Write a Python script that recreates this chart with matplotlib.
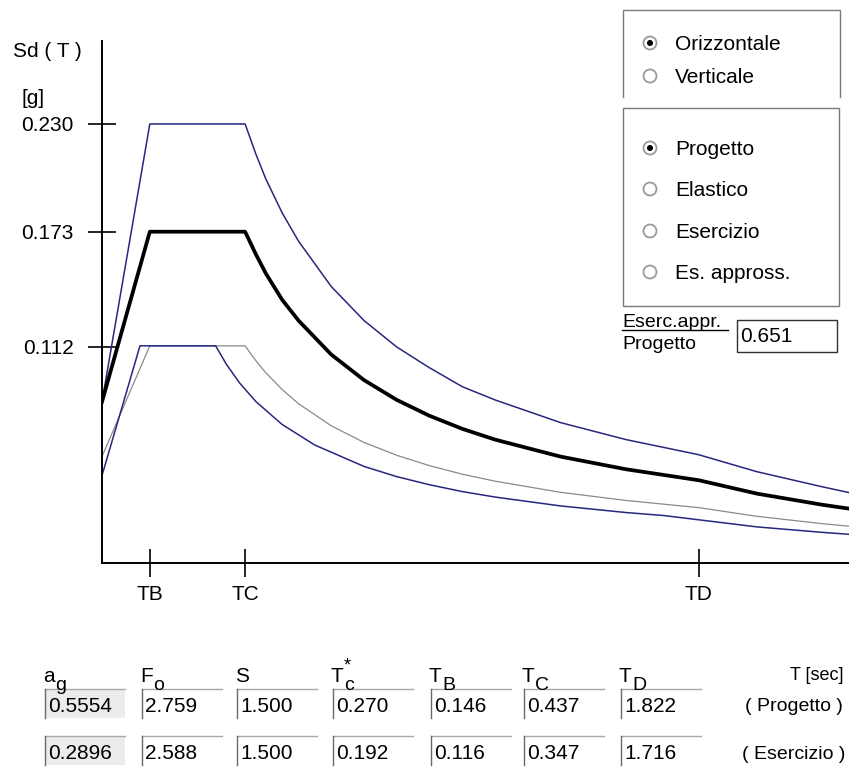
import matplotlib.pyplot as plt
from matplotlib.patches import Rectangle, Circle

plt.rcParams['font.family'] = ['Liberation Sans', 'DejaVu Sans']

# periods [s] used for the "Progetto" curves and the "Esercizio" curve
T_prog = [0.0, 0.146, 0.437, 0.47, 0.5, 0.55, 0.6, 0.7, 0.8, 0.9, 1.0, 1.1, 1.2,
          1.4, 1.6, 1.822, 2.0, 2.2, 2.28]
T_es = [0.0, 0.116, 0.347, 0.38, 0.42, 0.47, 0.55, 0.65, 0.8, 0.9, 1.0, 1.1, 1.2,
        1.4, 1.6, 1.716, 2.0, 2.2, 2.28]

# spectra [g]
sd_elastico = [0.083, 0.230, 0.230, 0.214, 0.201, 0.183, 0.168, 0.144, 0.126, 0.112,
               0.101, 0.091, 0.084, 0.072, 0.063, 0.055, 0.046, 0.038, 0.035]
sd_progetto = [0.083, 0.173, 0.173, 0.161, 0.151, 0.137, 0.126, 0.108, 0.0945, 0.084,
               0.0756, 0.0687, 0.063, 0.054, 0.0473, 0.0415, 0.0344, 0.0285, 0.0265]
sd_approx = [0.054, 0.1126, 0.1126, 0.1047, 0.0984, 0.0895, 0.082, 0.0703, 0.0615, 0.0547,
             0.0492, 0.0447, 0.041, 0.0351, 0.0308, 0.027, 0.0224, 0.0185, 0.0172]
sd_esercizio = [0.044, 0.1126, 0.1126, 0.1028, 0.093, 0.0831, 0.071, 0.0601, 0.0488, 0.0434,
                0.0391, 0.0355, 0.0326, 0.0279, 0.0244, 0.0228, 0.0168, 0.0139, 0.0129]

y_ticks = [0.230, 0.173, 0.112]
y_labels = ['0.230', '0.173', '0.112']
x_ticks = [0.146, 0.437, 1.822]
x_labels = ['TB', 'TC', 'TD']

param_names = ['a', 'F', 'S', 'T', 'T', 'T', 'T']
param_subs = ['g', 'o', '', 'c', 'B', 'C', 'D']
row_progetto = ['0.5554', '2.759', '1.500', '0.270', '0.146', '0.437', '1.822']
row_esercizio = ['0.2896', '2.588', '1.500', '0.192', '0.116', '0.347', '1.716']

radio_labels = ['Orizzontale', 'Verticale', 'Progetto', 'Elastico', 'Esercizio', 'Es. appross.']
radio_checked = [True, False, True, False, False, False]
ratio_text = '0.651'

W, H = 849, 769
fig = plt.figure(figsize=(W / 100, H / 100), dpi=100)

# chart area in pixel units of the screenshot
ax = fig.add_axes([102 / W, 1 - 563 / H, (W - 102) / W, (563 - 41) / H])
blue = '#27277f'
ax.plot(T_prog, sd_elastico, color=blue, lw=1.1)
ax.plot(T_prog, sd_approx, color='#8a8a8a', lw=0.9)
ax.plot(T_es, sd_esercizio, color=blue, lw=1.1)
ax.plot(T_prog, sd_progetto, color='black', lw=2.7)
ax.set_xlim(0, 2.281)
ax.set_ylim(-0.0023, 0.2739)
for s in ['top', 'right']:
    ax.spines[s].set_visible(False)
for s in ['left', 'bottom']:
    ax.spines[s].set_linewidth(1.4)
ax.set_yticks(y_ticks, y_labels)
ax.set_xticks(x_ticks, x_labels)
ax.tick_params(direction='inout', length=20, width=1.2, labelsize=15)
ax.tick_params(axis='y', pad=10.5)
ax.tick_params(axis='x', pad=6)

# overlay in screenshot pixel coordinates for the dialog elements
ov = fig.add_axes([0, 0, 1, 1])
ov.set_xlim(0, W)
ov.set_ylim(H, 0)
ov.axis('off')

fs = 15
ov.text(13, 57, 'Sd ( T )', fontsize=fs, va='baseline')
ov.text(22, 104, '[g]', fontsize=fs, va='baseline')

edge = '#7a7a7a'
# group boxes
ov.plot([623, 623, 840, 840], [97, 10, 10, 97], color=edge, lw=1)
ov.add_patch(Rectangle((623, 108), 216, 198, fill=False, edgecolor=edge, lw=1))

radio_y = [43, 76, 148, 189, 231, 272]
for lab, yy, on in zip(radio_labels, radio_y, radio_checked):
    ov.add_patch(Circle((650, yy), 6.5, facecolor='white', edgecolor='#9a9a9a', lw=1.3))
    if on:
        ov.add_patch(Circle((650, yy), 2.3, color='black'))
    ov.text(675, yy + 7, lab, fontsize=fs, va='baseline')

ov.text(622, 327, 'Eserc.appr.', fontsize=14, va='baseline')
ov.plot([622, 728], [330, 330], color='black', lw=1)
ov.text(622, 349, 'Progetto', fontsize=14, va='baseline')
ov.add_patch(Rectangle((737, 320), 100, 32, fill=False, edgecolor='#303030', lw=1))
ov.text(740, 342, ratio_text, fontsize=fs, va='baseline')

# parameter table
col_x = [45, 142, 237, 333, 431, 524, 621]
row_top = [689, 736]
for i, (name, sub) in enumerate(zip(param_names, param_subs)):
    x0 = col_x[i] - 2
    ov.text(x0, 682, name, fontsize=fs, va='baseline')
    dx = 12 if name == 'a' else 13
    if sub:
        ov.text(x0 + dx, 690, sub, fontsize=14, va='baseline')
    if i == 3:
        ov.text(x0 + dx, 670, '*', fontsize=13, va='baseline')
    for r, vals in enumerate([row_progetto, row_esercizio]):
        top = row_top[r]
        fill = '#ececec' if i == 0 else 'white'
        ov.add_patch(Rectangle((col_x[i], top), 80, 29, facecolor=fill, edgecolor='none'))
        ov.plot([col_x[i], col_x[i] + 80], [top, top], color='#a8a8a8', lw=1)
        ov.plot([col_x[i], col_x[i]], [top, top + 29], color='#6a6a6a', lw=1)
        ov.text(col_x[i] + 3, top + 23, vals[i], fontsize=fs, va='baseline')

ov.text(790, 680, 'T [sec]', fontsize=13, va='baseline')
ov.text(745, 711, '( Progetto )', fontsize=14, va='baseline')
ov.text(742, 759, '( Esercizio )', fontsize=14, va='baseline')

fig.savefig('out.png', dpi=100)
